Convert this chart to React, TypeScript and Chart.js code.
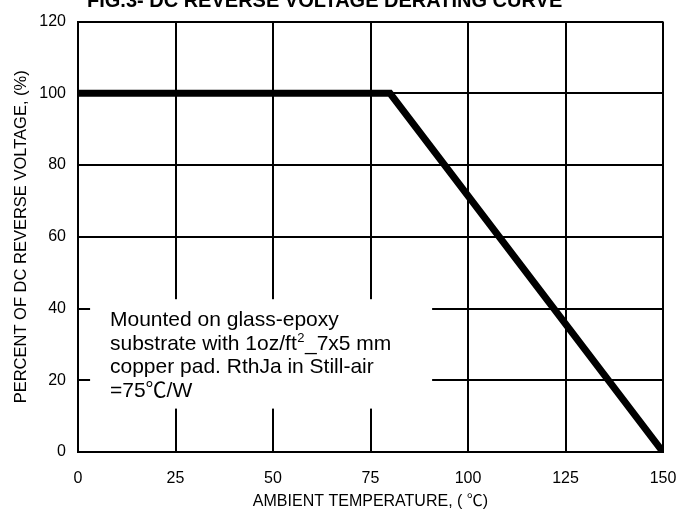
import React, { useEffect, useRef } from "react";
import { Chart, registerables } from "chart.js";

Chart.register(...registerables);

const temperatures = [0, 80, 150];
const percentRated = [100, 100, 0];
const xTickValues = [0, 25, 50, 75, 100, 125, 150];
const yTickValues = [0, 20, 40, 60, 80, 100, 120];
const chartTitle = "FIG.3- DC REVERSE VOLTAGE DERATING CURVE";
const xAxisTitle = "AMBIENT TEMPERATURE, ( ℃)";
const yAxisTitle = "PERCENT OF DC REVERSE VOLTAGE, (%)";
const noteLine1 = "Mounted on glass-epoxy";
const noteLine2 = ["substrate with 1oz/ft", "2", "_7x5 mm"];
const noteLine3 = "copper pad. RthJa in Still-air";
const noteLine4 = "=75℃/W";

const FONT = '"Liberation Sans", Arial, "Noto Sans CJK SC", sans-serif';

const overlayPlugin = {
  id: "overlay",
  beforeDatasetsDraw(chart: any) {
    const { ctx } = chart;
    const xs = chart.scales.x;
    const ys = chart.scales.y;
    ctx.save();
    // white note box covering grid
    const bx0 = xs.getPixelForValue(3.1);
    const bx1 = xs.getPixelForValue(90.8);
    const by0 = ys.getPixelForValue(42.6);
    const by1 = ys.getPixelForValue(12.1);
    ctx.fillStyle = "#ffffff";
    ctx.fillRect(bx0, by0, bx1 - bx0, by1 - by0);

    ctx.fillStyle = "#000000";
    ctx.textAlign = "left";
    ctx.textBaseline = "alphabetic";
    const tx = xs.getPixelForValue(8.2);
    const big = `21px ${FONT}`;
    ctx.font = big;
    ctx.fillText(noteLine1, tx, ys.getPixelForValue(35.0));
    const y2 = ys.getPixelForValue(28.4);
    ctx.fillText(noteLine2[0], tx, y2);
    const w = ctx.measureText(noteLine2[0]).width;
    ctx.font = `13px ${FONT}`;
    ctx.fillText(noteLine2[1], tx + w + 0.5, y2 - 8);
    const w2 = ctx.measureText(noteLine2[1]).width;
    ctx.font = big;
    ctx.fillText(noteLine2[2], tx + w + w2 + 1, y2);
    ctx.fillText(noteLine3, tx, ys.getPixelForValue(21.9));
    ctx.fillText(noteLine4, tx, ys.getPixelForValue(15.4));
    ctx.restore();
  },
  afterDraw(chart: any) {
    const { ctx, chartArea } = chart;
    ctx.save();
    ctx.fillStyle = "#000000";
    ctx.font = `bold 20px ${FONT}`;
    ctx.textAlign = "left";
    ctx.textBaseline = "alphabetic";
    ctx.fillText(chartTitle, 87, 7);
    ctx.font = `16px ${FONT}`;
    ctx.textAlign = "center";
    ctx.textBaseline = "middle";
    ctx.fillText(xAxisTitle, (chartArea.left + chartArea.right) / 2, chartArea.bottom + 50);
    ctx.restore();
  },
};

export default function App() {
  const canvasRef = useRef<HTMLCanvasElement | null>(null);

  useEffect(() => {
    const canvas = canvasRef.current;
    if (!canvas) return;
    const chart = new Chart(canvas, {
      type: "line",
      data: {
        datasets: [
          {
            data: temperatures.map((t, i) => ({ x: t, y: percentRated[i] })),
            borderColor: "#000000",
            borderWidth: 7,
            pointRadius: 0,
            tension: 0,
            fill: false,
          },
        ],
      },
      options: {
        responsive: false,
        animation: false,
        layout: { padding: { top: 15, right: 31, left: 0, bottom: 0 } },
        plugins: {
          legend: { display: false },
          tooltip: { enabled: false },
        },
        scales: {
          x: {
            type: "linear",
            min: 0,
            max: 150,
            afterBuildTicks: (s: any) => {
              s.ticks = xTickValues.map((v) => ({ value: v }));
            },
            afterFit: (s: any) => {
              s.height = 63;
            },
            ticks: {
              color: "#000000",
              padding: 17,
              font: { family: FONT, size: 16 },
              maxRotation: 0,
            },
            grid: { color: "#000000", lineWidth: 2, drawTicks: false },
            border: { color: "#000000", width: 2 },
            title: { display: false },
          },
          y: {
            type: "linear",
            min: 0,
            max: 120,
            afterBuildTicks: (s: any) => {
              s.ticks = yTickValues.map((v) => ({ value: v }));
            },
            afterFit: (s: any) => {
              s.width = 78;
            },
            ticks: {
              color: "#000000",
              padding: 12,
              font: { family: FONT, size: 16 },
            },
            grid: { color: "#000000", lineWidth: 2, drawTicks: false },
            border: { color: "#000000", width: 2 },
            title: {
              display: true,
              text: yAxisTitle,
              color: "#000000",
              font: { family: FONT, size: 16.5 },
              padding: { top: 12, bottom: 0 },
            },
          },
        },
      },
      plugins: [overlayPlugin],
    } as any);
    return () => chart.destroy();
  }, []);

  return (
    <div style={{ position: "absolute", left: 0, top: 0, width: 694, height: 515, background: "#fff" }}>
      <canvas ref={canvasRef} width={694} height={515} style={{ display: "block" }} />
    </div>
  );
}
